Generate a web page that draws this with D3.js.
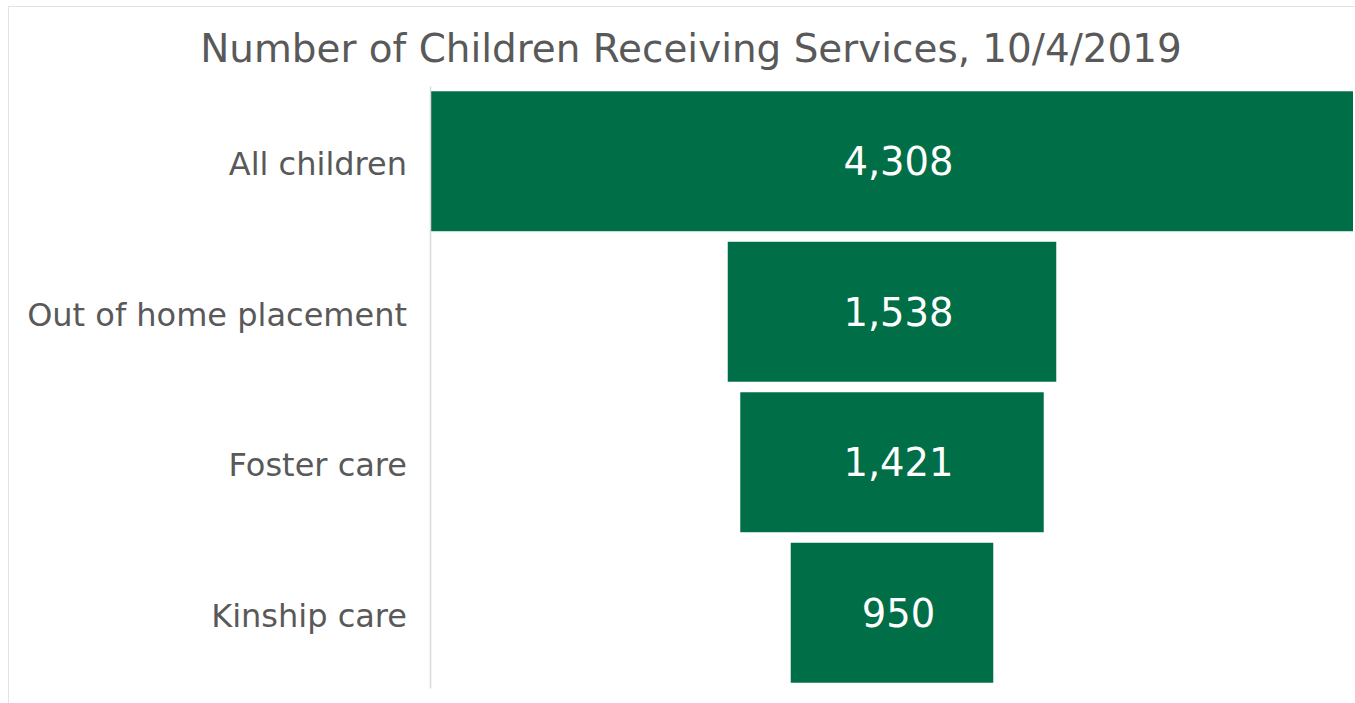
<!DOCTYPE html>
<html>
<head>
<meta charset="utf-8">
<script src="https://cdn.jsdelivr.net/npm/d3@7"></script>
<style>
    html, body { margin: 0; padding: 0; background: #fff; }
    svg { display: block; font-family: "DejaVu Sans", Verdana, sans-serif; }
</style>
</head>
<body>
<div id="chart"></div>
<script>
'use strict';

var stages = ['All children', 'Out of home placement', 'Foster care', 'Kinship care'];
var counts = [4308, 1538, 1421, 950];
var chartTitle = 'Number of Children Receiving Services, 10/4/2019';

var width = 1355;
var height = 703;
var barColor = '#006e46';
var textColor = '#595959';

drawFunnel();

function drawFunnel() {
    var margin = { top: 86, right: 2, bottom: 15, left: 430 };

    var data = stages.map(function(s, i) {
        return { label: s, count: counts[i] };
    });

    var svg = d3.select('#chart')
        .append('svg')
        .attr('width', width)
        .attr('height', height);

    // chart frame
    svg.append('rect')
        .attr('x', 8.5)
        .attr('y', 6.5)
        .attr('width', width + 20)
        .attr('height', height + 20)
        .attr('fill', 'none')
        .attr('stroke', '#e3e3e3')
        .attr('stroke-width', 1);

    svg.append('text')
        .attr('x', 691)
        .attr('y', 62)
        .attr('text-anchor', 'middle')
        .attr('fill', textColor)
        .style('font-size', '38.9px')
        .text(chartTitle);

    var g = svg.append('g')
        .attr('transform', 'translate(' + margin.left + ',' + margin.top + ')');

    var innerW = width - margin.left - margin.right;
    var innerH = height - margin.top - margin.bottom;

    var x = d3.scaleLinear()
        .domain([0, d3.max(counts)])
        .range([0, innerW]);

    var y = d3.scaleBand()
        .domain(stages)
        .range([0, innerH])
        .paddingInner(0.07)
        .paddingOuter(0.035);

    var mid = innerW / 2;

    g.selectAll('rect.bar')
        .data(data)
        .enter()
        .append('rect')
        .attr('class', 'bar')
        .attr('x', function(d) { return mid - x(d.count) / 2 + 1; })
        .attr('y', function(d) { return y(d.label); })
        .attr('width', function(d) { return x(d.count) - 1; })
        .attr('height', y.bandwidth())
        .attr('fill', barColor);

    g.selectAll('text.value')
        .data(data)
        .enter()
        .append('text')
        .attr('class', 'value')
        .attr('x', mid + 7)
        .attr('y', function(d) { return y(d.label) + y.bandwidth() / 2; })
        .attr('dy', '0.37em')
        .attr('text-anchor', 'middle')
        .attr('fill', '#ffffff')
        .style('font-size', '38.5px')
        .text(function(d) { return d3.format(',')(d.count); });

    var yAxis = d3.axisLeft(y)
        .tickSize(0)
        .tickSizeOuter(0)
        .tickPadding(23);

    var axisG = g.append('g')
        .attr('class', 'y-axis')
        .call(yAxis);

    axisG.select('.domain')
        .attr('stroke', '#d9d9d9')
        .attr('stroke-width', 1.5);

    axisG.selectAll('text')
        .attr('fill', textColor)
        .attr('dy', '0.43em')
        .style('font-size', '32px')
        .style('font-family', '"DejaVu Sans", Verdana, sans-serif');
}
</script>
</body>
</html>
